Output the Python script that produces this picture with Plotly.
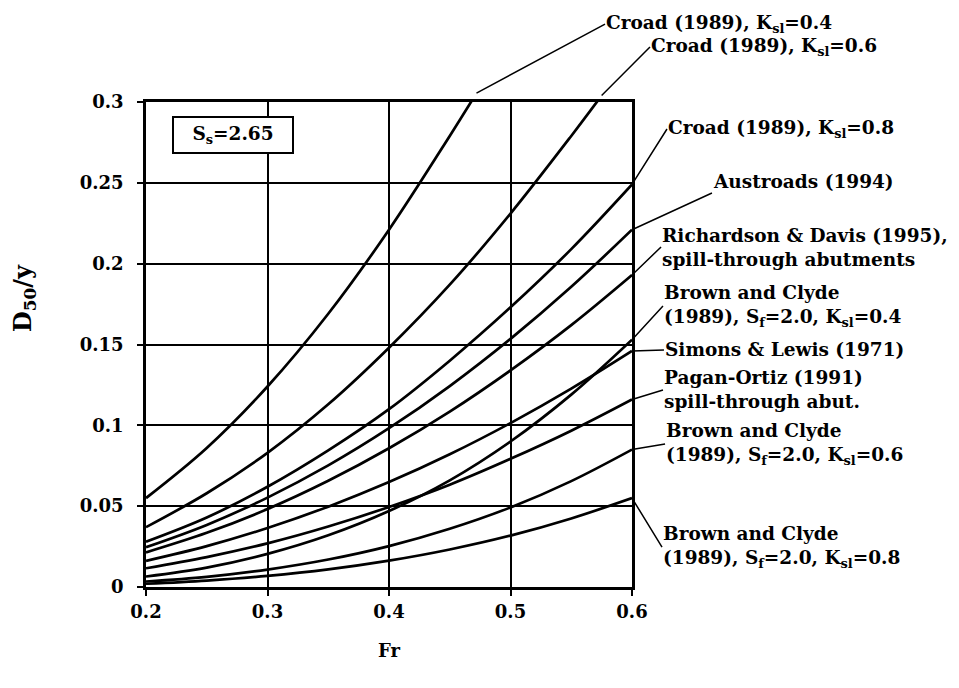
import plotly.graph_objects as go

FR_FULL = [0.2, 0.25, 0.3, 0.35, 0.4, 0.45, 0.5, 0.55, 0.6]
FR_CROAD_04 = [0.2, 0.25, 0.3, 0.35, 0.4, 0.45, 0.472]
FR_CROAD_06 = [0.2, 0.25, 0.3, 0.35, 0.4, 0.45, 0.5, 0.55, 0.575]

croad_04 = [0.055, 0.086, 0.124, 0.169, 0.221, 0.279, 0.3055]
croad_06 = [0.037, 0.058, 0.083, 0.113, 0.148, 0.187, 0.231, 0.279, 0.304]
croad_08 = [0.028, 0.043, 0.062, 0.0845, 0.110, 0.140, 0.173, 0.209, 0.249]
austroads = [0.0246, 0.0384, 0.0553, 0.0752, 0.0982, 0.1243, 0.1535, 0.1857, 0.221]
rich_davis = [0.0214, 0.0335, 0.0482, 0.0657, 0.0858, 0.1085, 0.134, 0.162, 0.193]
bc_04 = [0.0065, 0.012, 0.0205, 0.032, 0.047, 0.066, 0.090, 0.119, 0.153]
simons_lewis = [0.0162, 0.0253, 0.0365, 0.0497, 0.0649, 0.0821, 0.1014, 0.1227, 0.146]
pagan = [0.0116, 0.0185, 0.027, 0.0374, 0.0495, 0.0633, 0.0793, 0.0967, 0.116]
bc_06 = [0.0034, 0.0063, 0.0108, 0.0170, 0.0253, 0.0360, 0.0492, 0.0655, 0.085]
bc_08 = [0.0020, 0.0040, 0.0069, 0.0109, 0.0163, 0.0232, 0.0318, 0.0424, 0.055]

labels = [
    "Croad (1989), K<sub>sl</sub>=0.4",
    "Croad (1989), K<sub>sl</sub>=0.6",
    "Croad (1989), K<sub>sl</sub>=0.8",
    "Austroads (1994)",
    "Richardson &amp; Davis (1995),<br>spill-through abutments",
    "Brown and Clyde<br>(1989), S<sub>f</sub>=2.0, K<sub>sl</sub>=0.4",
    "Simons &amp; Lewis (1971)",
    "Pagan-Ortiz (1991)<br>spill-through abut.",
    "Brown and Clyde<br>(1989), S<sub>f</sub>=2.0, K<sub>sl</sub>=0.6",
    "Brown and Clyde<br>(1989), S<sub>f</sub>=2.0, K<sub>sl</sub>=0.8",
]
series = [
    (FR_CROAD_04, croad_04), (FR_CROAD_06, croad_06), (FR_FULL, croad_08),
    (FR_FULL, austroads), (FR_FULL, rich_davis), (FR_FULL, bc_04),
    (FR_FULL, simons_lewis), (FR_FULL, pagan), (FR_FULL, bc_06), (FR_FULL, bc_08),
]
# label anchor (left edge of text box) positions in data units, and vertical anchor
label_pos = [
    (0.5778, 0.3482, "middle"),
    (0.6148, 0.3340, "middle"),
    (0.6288, 0.2833, "middle"),
    (0.6658, 0.2437, "bottom"),
    (0.6239, 0.2103, "middle"),
    (0.6255, 0.1738, "middle"),
    (0.6263, 0.1466, "middle"),
    (0.6255, 0.1219, "middle"),
    (0.6272, 0.0885, "middle"),
    (0.6247, 0.0247, "middle"),
]

X_RANGE = [0.2, 0.6]
Y_RANGE = [0.0, 0.3]
W, H = 959, 688
ML, MR, MT, MB = 146, 327, 102, 101
PW, PH = W - ML - MR, H - MT - MB

def to_paper_x(v):
    return (v - X_RANGE[0]) / (X_RANGE[1] - X_RANGE[0])

def to_paper_y(v):
    return (v - Y_RANGE[0]) / (Y_RANGE[1] - Y_RANGE[0])

FONT = "DejaVu Serif"

fig = go.Figure()
for (xs, ys), name in zip(series, labels):
    fig.add_trace(go.Scatter(
        x=xs, y=ys, mode="lines", name=name,
        line=dict(color="black", width=2.7, shape="spline", smoothing=1.0),
        showlegend=False, hoverinfo="skip",
    ))

annotations = []
for (xs, ys), text, (tx, ty, yanc) in zip(series, labels, label_pos):
    hx, hy = to_paper_x(xs[-1]), to_paper_y(ys[-1])
    annotations.append(dict(
        x=hx, y=hy, xref="paper", yref="paper",
        ax=(to_paper_x(tx) - hx) * PW, ay=-(to_paper_y(ty) - hy) * PH,
        text="<b>" + text + "</b>", showarrow=True,
        arrowhead=0, arrowwidth=1.5, arrowcolor="black",
        standoff=0, startstandoff=0,
        xanchor="left", yanchor=yanc, align="left",
        font=dict(family=FONT, size=18.5, color="black"),
        borderpad=0,
    ))

annotations.append(dict(
    x=0.272, y=0.2793, xref="x", yref="y", showarrow=False,
    text="<b>S<sub>s</sub>=2.65</b>",
    font=dict(family=FONT, size=18.5, color="black"),
    bordercolor="black", borderwidth=2, bgcolor="white",
    width=116, height=32, borderpad=1,
))
annotations.append(dict(
    x=-0.251, y=0.596, xref="paper", yref="paper", showarrow=False,
    xanchor="center", yanchor="middle",
    text="<b>D<sub>50</sub>/y</b>", textangle=-90,
    font=dict(family=FONT, size=24, color="black"),
))

fig.update_layout(
    width=W, height=H,
    margin=dict(l=ML, r=MR, t=MT, b=MB),
    paper_bgcolor="white", plot_bgcolor="white",
    annotations=annotations,
)
fig.update_xaxes(
    range=X_RANGE, dtick=0.1, tick0=0.2,
    showgrid=True, gridcolor="black", gridwidth=2,
    showline=True, linecolor="black", linewidth=2.5, mirror=True,
    ticks="outside", ticklen=6, tickwidth=2, tickcolor="black",
    tickfont=dict(family=FONT, size=18, color="black", weight="bold"),
    ticklabelstandoff=1, zeroline=False,
    title=dict(text="<b>Fr</b>", font=dict(family=FONT, size=18, color="black"), standoff=24),
)
fig.update_yaxes(
    range=Y_RANGE, dtick=0.05, tick0=0,
    showgrid=True, gridcolor="black", gridwidth=2,
    showline=True, linecolor="black", linewidth=2.5, mirror=True,
    ticks="outside", ticklen=6, tickwidth=2, tickcolor="black",
    tickfont=dict(family=FONT, size=18, color="black", weight="bold"),
    ticklabelstandoff=10, zeroline=False,
)

fig.write_html("out.html")
